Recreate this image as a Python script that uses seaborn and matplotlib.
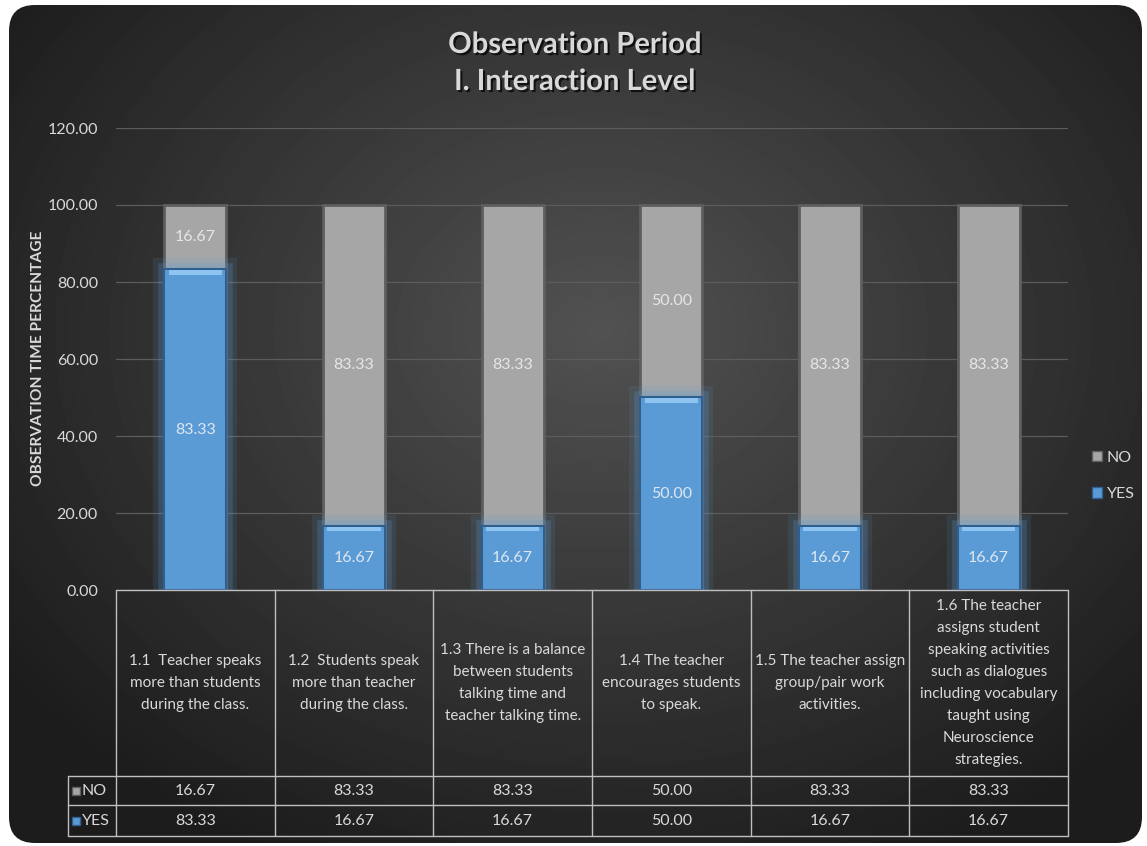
import numpy as np
import pandas as pd
import matplotlib
matplotlib.use("Agg")
import matplotlib.pyplot as plt
import seaborn as sns
from matplotlib.patches import FancyBboxPatch, Patch
from matplotlib import patheffects as pe
from matplotlib.transforms import blended_transform_factory

# ---- data -------------------------------------------------------------
codes = ["1.1", "1.2", "1.3", "1.4", "1.5", "1.6"]
categories = [
    "1.1  Teacher speaks\nmore than students\nduring the class.",
    "1.2  Students speak\nmore than teacher\nduring the class.",
    "1.3 There is a balance\nbetween students\ntalking time and\nteacher talking time.",
    "1.4 The teacher\nencourages students\nto speak.",
    "1.5 The teacher assign\ngroup/pair work\nactivities.",
    "1.6 The teacher\nassigns student\nspeaking activities\nsuch as dialogues\nincluding vocabulary\ntaught using\nNeuroscience\nstrategies.",
]
yes_values = [83.33, 16.67, 16.67, 50.00, 16.67, 16.67]
no_values = [16.67, 83.33, 83.33, 50.00, 83.33, 83.33]
series = ["NO", "YES"]
y_ticks = [0, 20, 40, 60, 80, 100, 120]

title_lines = ["Observation Period", "I. Interaction Level"]
y_label = "OBSERVATION TIME PERCENTAGE"

# ---- style ------------------------------------------------------------
sns.set_theme(style="dark")
FONT = ["Lato", "DejaVu Sans"]
plt.rcParams["font.family"] = FONT
TXT = "#d9d9d9"
BLUE = "#5b9bd5"
BLUE_LIGHT = "#8fc3f0"
BLUE_EDGE = "#2f5f8f"
GRAY = "#a6a6a6"
GRAY_EDGE = "#5e5e5e"
LINE = "#bfbfbf"

W, H = 1147, 846
fig = plt.figure(figsize=(W / 100, H / 100), dpi=100)
fig.patch.set_facecolor("white")

# ---- dark rounded panel with radial shading ---------------------------
bg = fig.add_axes([0, 0, 1, 1], zorder=0)
bg.set_xlim(0, W)
bg.set_ylim(H, 0)
bg.axis("off")
yy, xx = np.mgrid[0:H, 0:W]
d = np.sqrt(((xx - 600) / 700.0) ** 2 + ((yy - 330) / 560.0) ** 2)
shade = np.clip(0.32 - 0.20 * d, 0.11, 1.0)
panel = FancyBboxPatch((9, 5), 1133, 838,
                       boxstyle="round,pad=0,rounding_size=26",
                       transform=bg.transData, facecolor="none", edgecolor="none")
bg.add_patch(panel)
im = bg.imshow(shade, cmap="gray", vmin=0, vmax=1, extent=(0, W, H, 0),
               interpolation="bilinear")
im.set_clip_path(panel)

# ---- plotting area ----------------------------------------------------
ax = fig.add_axes([116 / W, 1 - 590 / H, 952 / W, 462 / H], zorder=1)
ax.set_facecolor("none")

df = pd.DataFrame({
    "code": codes,
    "total": np.array(yes_values) + np.array(no_values),
    "yes": yes_values,
})

BAR_W = 0.39
sns.barplot(data=df, x="code", y="total", color=GRAY, width=BAR_W,
            saturation=1, edgecolor=GRAY_EDGE, linewidth=2, ax=ax, zorder=3)
n_gray = len(ax.patches)
sns.barplot(data=df, x="code", y="yes", color=BLUE, width=BAR_W,
            saturation=1, edgecolor=BLUE_EDGE, linewidth=1.5, ax=ax, zorder=4)

for p in ax.patches[n_gray:]:
    p.set_path_effects([
        pe.Stroke(linewidth=16, foreground=BLUE, alpha=0.12),
        pe.Stroke(linewidth=9, foreground=BLUE, alpha=0.22),
        pe.Normal(),
    ])

# bevel highlight along the top edge of each blue segment
ax.bar(range(len(codes)), 1.2, bottom=np.array(yes_values) - 1.4,
       width=BAR_W * 0.86, color=BLUE_LIGHT, linewidth=0, zorder=5)

ax.set_xlim(-0.5, 5.5)
ax.set_ylim(0, 120)
ax.set_yticks(y_ticks)
ax.set_yticklabels([f"{v:.2f}" for v in y_ticks], color=TXT, fontsize=11.5)
ax.tick_params(axis="y", length=0, pad=13)
ax.set_xticks(range(len(codes)))
ax.set_xticklabels([])
ax.tick_params(axis="x", length=0)
ax.set_xlabel("")
ax.set_ylabel(y_label, color=TXT, fontsize=11.2, fontweight="bold")
ax.yaxis.set_label_coords((45 - 116) / 952, (590 - 358) / 462)
ax.grid(axis="y", color="#5c5c5c", linewidth=0.9, zorder=0)
ax.grid(axis="x", visible=False)
for s in ax.spines.values():
    s.set_visible(False)

# value labels inside segments
for i, (y, n) in enumerate(zip(yes_values, no_values)):
    ax.text(i, y / 2, f"{y:.2f}", ha="center", va="center",
            color="#dde7f2", fontsize=11.5, zorder=6)
    ax.text(i, y + n / 2, f"{n:.2f}", ha="center", va="center",
            color="#e6e6e6", fontsize=11.5, zorder=6)

# ---- data table under the axis ----------------------------------------
tr = blended_transform_factory(ax.transData, ax.transAxes)
px_unit = 952 / 6.0
y_head = (590 - 776) / 462
y_no = (590 - 805) / 462
y_yes = (590 - 836) / 462
x_left = -0.5 - 48 / px_unit

line_kw = dict(color=LINE, linewidth=1, transform=tr, clip_on=False, zorder=5)
for k in range(7):
    ax.plot([-0.5 + k, -0.5 + k], [0, y_yes], **line_kw)
ax.plot([-0.5, 5.5], [0, 0], **line_kw)
for yv in (y_head, y_no, y_yes):
    ax.plot([x_left, 5.5], [yv, yv], **line_kw)
ax.plot([x_left, x_left], [y_head, y_yes], **line_kw)

for i, cat in enumerate(categories):
    ax.text(i, (0 + y_head) / 2, cat, transform=tr, ha="center", va="center",
            multialignment="center", color=TXT, fontsize=11, linespacing=1.72,
            clip_on=False)

row_vals = {"NO": no_values, "YES": yes_values}
row_y = {"NO": (y_head + y_no) / 2, "YES": (y_no + y_yes) / 2}
row_col = {"NO": (GRAY, GRAY_EDGE), "YES": (BLUE, BLUE_EDGE)}
for name in series:
    yc = row_y[name]
    for i, v in enumerate(row_vals[name]):
        ax.text(i, yc, f"{v:.2f}", transform=tr, ha="center", va="center",
                color=TXT, fontsize=11.5, clip_on=False)
    ax.plot([-0.5 - 40 / px_unit], [yc], marker="s", markersize=6,
            markerfacecolor=row_col[name][0], markeredgecolor=row_col[name][1],
            transform=tr, clip_on=False, linestyle="none")
    ax.text(-0.5 - 34 / px_unit, yc, name, transform=tr, ha="left", va="center",
            color=TXT, fontsize=11.5, clip_on=False)

# ---- legend -------------------------------------------------------------
handles = [Patch(facecolor=GRAY, edgecolor=GRAY_EDGE, label="NO"),
           Patch(facecolor=BLUE, edgecolor=BLUE_EDGE, label="YES")]
leg = fig.legend(handles=handles, loc="center left",
                 bbox_to_anchor=(1078 / W, 1 - 476 / H), frameon=False,
                 handlelength=0.6, handleheight=0.6, handletextpad=0.3,
                 labelspacing=1.4, fontsize=11.5)
for t in leg.get_texts():
    t.set_color(TXT)

# ---- title --------------------------------------------------------------
shadow = [pe.SimplePatchShadow(offset=(1.5, -1.5), shadow_rgbFace="black", alpha=0.7),
          pe.Normal()]
for line, ypx in zip(title_lines, (45, 82)):
    fig.text(0.501, 1 - ypx / H, line, ha="center", va="center",
             color=TXT, fontsize=21, fontweight="bold", path_effects=shadow)

fig.savefig("out.png", dpi=100, facecolor=fig.get_facecolor())
